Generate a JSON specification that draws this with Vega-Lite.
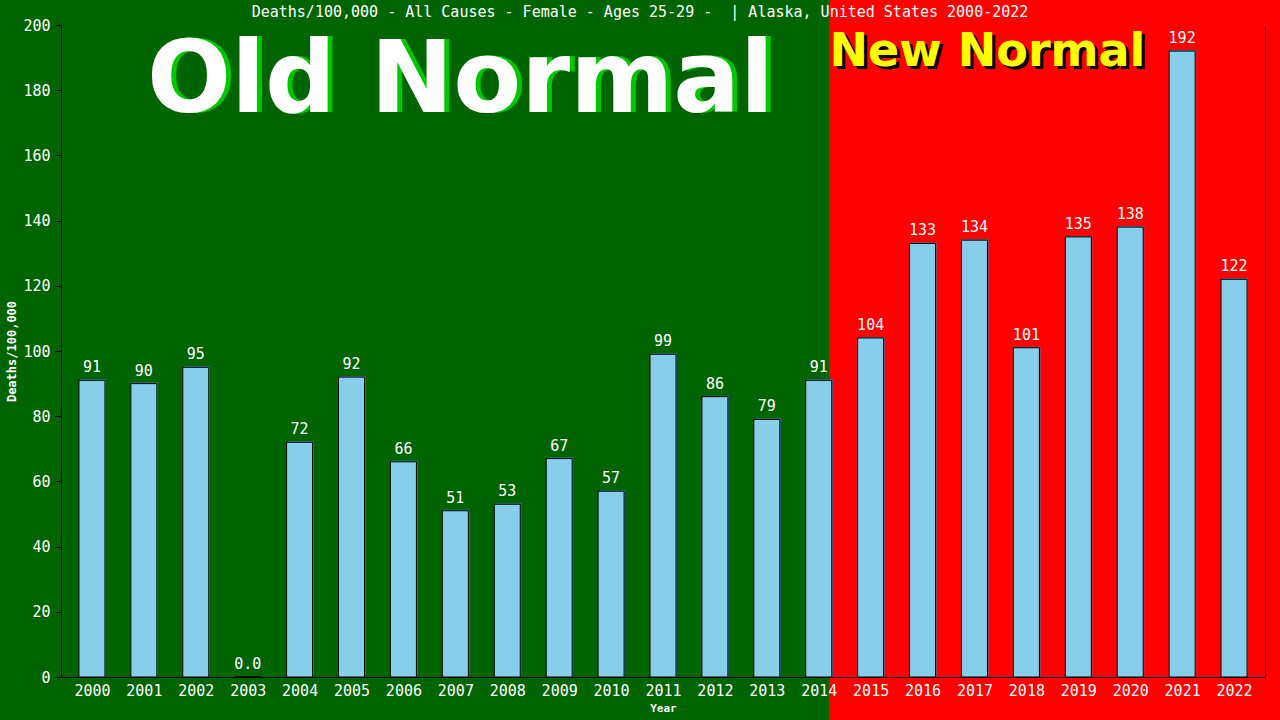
{
  "$schema": "https://vega.github.io/schema/vega-lite/v6.json",
  "width": 1204,
  "height": 652,
  "autosize": {"type": "none"},
  "padding": {"left": 61, "top": 25, "right": 15, "bottom": 43},
  "background": "#006400",
  "config": {"view": {"stroke": null}, "font": "DejaVu Sans Mono"},
  "title": {
    "text": "Deaths/100,000 - All Causes - Female - Ages 25-29 -\u00a0 | Alaska, United States 2000-2022",
    "color": "white",
    "font": "DejaVu Sans Mono",
    "fontSize": 15,
    "fontWeight": "normal",
    "anchor": "middle",
    "frame": "group",
    "dx": -23,
    "dy": 48,
    "offset": 4
  },
  "data": {
    "values": [
      {"year": 2000, "value": 91, "label": "91"},
      {"year": 2001, "value": 90, "label": "90"},
      {"year": 2002, "value": 95, "label": "95"},
      {"year": 2003, "value": 0, "label": "0.0"},
      {"year": 2004, "value": 72, "label": "72"},
      {"year": 2005, "value": 92, "label": "92"},
      {"year": 2006, "value": 66, "label": "66"},
      {"year": 2007, "value": 51, "label": "51"},
      {"year": 2008, "value": 53, "label": "53"},
      {"year": 2009, "value": 67, "label": "67"},
      {"year": 2010, "value": 57, "label": "57"},
      {"year": 2011, "value": 99, "label": "99"},
      {"year": 2012, "value": 86, "label": "86"},
      {"year": 2013, "value": 79, "label": "79"},
      {"year": 2014, "value": 91, "label": "91"},
      {"year": 2015, "value": 104, "label": "104"},
      {"year": 2016, "value": 133, "label": "133"},
      {"year": 2017, "value": 134, "label": "134"},
      {"year": 2018, "value": 101, "label": "101"},
      {"year": 2019, "value": 135, "label": "135"},
      {"year": 2020, "value": 138, "label": "138"},
      {"year": 2021, "value": 192, "label": "192"},
      {"year": 2022, "value": 122, "label": "122"}
    ]
  },
  "resolve": {"axis": {"y": "independent"}},
  "layer": [
    {
      "data": {"values": [{"era": "New Normal"}]},
      "mark": {"type": "rect", "color": "#FF0000", "clip": false},
      "encoding": {
        "x": {"datum": 2014.2, "type": "quantitative", "scale": {"domain": [1999.5, 2022.5], "nice": false, "zero": false}},
        "x2": {"datum": 2023.2},
        "y": {"datum": -15, "type": "quantitative", "scale": {"domain": [0, 200], "nice": false},
              "axis": {"orient": "right", "labels": false, "ticks": false, "grid": false, "title": null, "domainColor": "black", "domainWidth": 1, "zindex": 1}},
        "y2": {"datum": 215}
      }
    },
    {
      "mark": {"type": "bar", "width": 26, "color": "#4682B4", "xOffset": 1, "yOffset": -1},
      "encoding": {
        "x": {"field": "year", "type": "quantitative", "scale": {"domain": [1999.5, 2022.5], "nice": false, "zero": false}},
        "y": {"field": "value", "type": "quantitative", "scale": {"domain": [0, 200], "nice": false}, "axis": null}
      }
    },
    {
      "mark": {"type": "bar", "width": 26, "color": "#87CEEB", "stroke": "black", "strokeWidth": 1},
      "encoding": {
        "x": {"field": "year", "type": "quantitative", "scale": {"domain": [1999.5, 2022.5], "nice": false, "zero": false},
              "axis": {"values": [2000,2001,2002,2003,2004,2005,2006,2007,2008,2009,2010,2011,2012,2013,2014,2015,2016,2017,2018,2019,2020,2021,2022],
                       "format": "d", "ticks": false, "grid": false, "labelOverlap": false, "labelFlush": false,
                       "domainColor": "black", "labelColor": "white", "labelFont": "DejaVu Sans Mono", "labelFontSize": 15, "labelPadding": 6,
                       "title": "Year", "titleColor": "white", "titleFont": "DejaVu Sans Mono", "titleFontSize": 11, "titleFontWeight": "bold", "titlePadding": 4, "zindex": 1}},
        "y": {"field": "value", "type": "quantitative", "scale": {"domain": [0, 200], "nice": false},
              "axis": {"values": [0,20,40,60,80,100,120,140,160,180,200], "grid": false, "tickColor": "black", "tickSize": 6, "domainColor": "black",
                       "labelColor": "white", "labelFont": "DejaVu Sans Mono", "labelFontSize": 15, "labelPadding": 5,
                       "title": "Deaths/100,000", "titleColor": "white", "titleFont": "DejaVu Sans Mono", "titleFontSize": 12, "titleFontWeight": "bold", "titlePadding": 4, "zindex": 1}}
      }
    },
    {
      "mark": {"type": "text", "color": "white", "font": "DejaVu Sans Mono", "fontSize": 15, "baseline": "alphabetic", "dy": -8},
      "encoding": {
        "x": {"field": "year", "type": "quantitative"},
        "y": {"field": "value", "type": "quantitative", "axis": null},
        "text": {"field": "label"}
      }
    },
    {
      "data": {"values": [{"era": "Old Normal"}]},
      "mark": {"type": "text", "text": "Old Normal", "color": "#00C800", "font": "DejaVu Sans", "fontWeight": "bold", "fontSize": 99, "baseline": "alphabetic", "align": "center", "dx": 5},
      "encoding": {
        "x": {"datum": 2007.1, "type": "quantitative"},
        "y": {"datum": 173.3, "type": "quantitative", "axis": null}
      }
    },
    {
      "data": {"values": [{"era": "Old Normal"}]},
      "mark": {"type": "text", "text": "Old Normal", "color": "white", "font": "DejaVu Sans", "fontWeight": "bold", "fontSize": 99, "baseline": "alphabetic", "align": "center"},
      "encoding": {
        "x": {"datum": 2007.1, "type": "quantitative"},
        "y": {"datum": 173.3, "type": "quantitative", "axis": null}
      }
    },
    {
      "data": {"values": [{"era": "New Normal"}]},
      "mark": {"type": "text", "text": "New Normal", "color": "black", "font": "DejaVu Sans", "fontWeight": "bold", "fontSize": 46, "baseline": "alphabetic", "align": "center", "dx": 3, "dy": 3},
      "encoding": {
        "x": {"datum": 2017.25, "type": "quantitative"},
        "y": {"datum": 187.5, "type": "quantitative", "axis": null}
      }
    },
    {
      "data": {"values": [{"era": "New Normal"}]},
      "mark": {"type": "text", "text": "New Normal", "color": "#FFFF00", "font": "DejaVu Sans", "fontWeight": "bold", "fontSize": 46, "baseline": "alphabetic", "align": "center"},
      "encoding": {
        "x": {"datum": 2017.25, "type": "quantitative"},
        "y": {"datum": 187.5, "type": "quantitative", "axis": null}
      }
    }
  ]
}
